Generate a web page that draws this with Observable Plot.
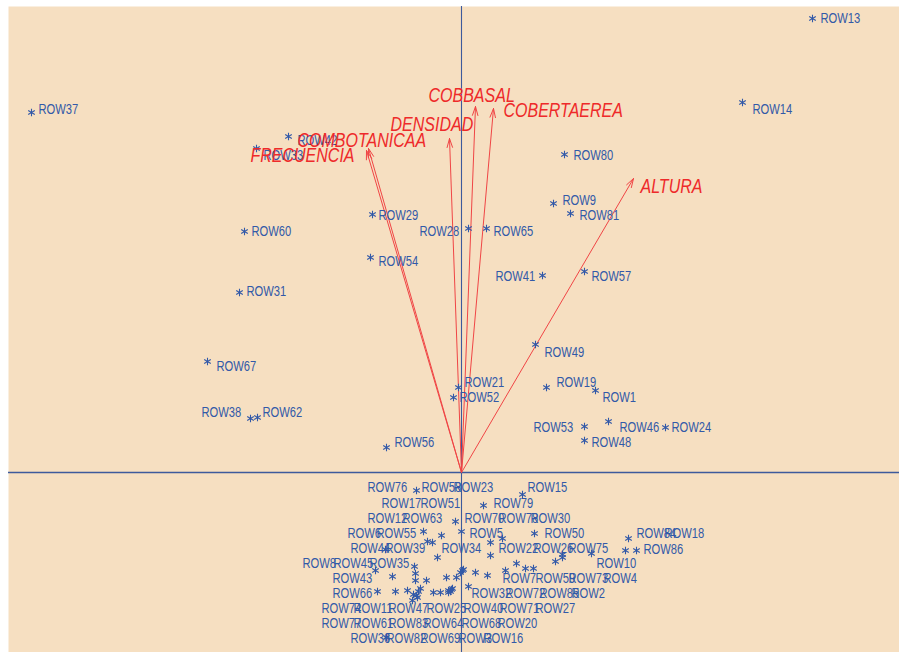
<!DOCTYPE html>
<html>
<head>
<meta charset="utf-8">
<script src="https://cdn.jsdelivr.net/npm/d3@7"></script>
<script src="https://cdn.jsdelivr.net/npm/@observablehq/plot@0.6"></script>
<style>
  html, body { margin: 0; padding: 0; background: white; }
</style>
</head>
<body>
<div id="chart"></div>
<script>
// Observations (scores on component 1 and 2) and label anchor positions
const rowNames = [
  "ROW13","ROW37","ROW14","ROW42","ROW33","ROW80","ROW9","ROW81","ROW60","ROW29","ROW28","ROW65","ROW54","ROW41","ROW57","ROW31","ROW49","ROW67","ROW21","ROW52","ROW19","ROW1","ROW38","ROW62","ROW53","ROW46","ROW24","ROW48","ROW56",
  "ROW76","ROW58","ROW23","ROW15","ROW17","ROW51","ROW79","ROW12","ROW63","ROW70","ROW78","ROW30","ROW6","ROW55","ROW5","ROW50","ROW84","ROW18","ROW44","ROW39","ROW34","ROW22","ROW26","ROW75","ROW86","ROW8","ROW45","ROW35","ROW10","ROW43","ROW7","ROW59","ROW73","ROW4","ROW66","ROW32","ROW72","ROW85","ROW2","ROW74","ROW11","ROW47","ROW25","ROW40","ROW71","ROW27","ROW77","ROW61","ROW83","ROW64","ROW68","ROW20","ROW36","ROW82","ROW69","ROW3","ROW16"
];
const rowX = [
  3.51,-4.30,2.81,-1.73,-2.05,1.03,0.92,1.09,-2.17,-0.89,0.07,0.25,-0.91,0.81,1.23,-2.22,0.74,-2.54,-0.03,-0.08,0.85,1.34,-2.11,-2.04,1.23,1.47,2.04,1.23,-0.75,
  -0.45,-0.06,0.00,0.61,-0.38,-0.20,0.22,-0.76,-0.34,0.29,0.41,0.73,-0.86,-0.29,0.29,1.01,1.67,1.75,-0.69,-0.24,0.01,0.44,0.94,1.30,1.64,-0.84,-0.47,-0.46,0.72,-0.66,0.14,0.55,0.64,0.26,-0.46,0.07,-0.01,-0.05,-0.15,-0.35,-0.54,-0.43,-0.44,-0.28,-0.21,-0.13,-0.49,-0.09,-0.11,-0.48,-0.41,0.02,-0.75,-0.45,-0.10,-0.13,1.01
];
const rowY = [
  4.54,3.60,3.70,3.36,3.24,3.18,2.69,2.59,2.41,2.58,2.44,2.44,2.15,1.97,2.01,1.80,1.28,1.11,0.85,0.75,0.85,0.82,0.54,0.55,0.46,0.51,0.45,0.32,0.25,
  -0.18,-0.49,-0.59,-0.22,-0.59,-0.63,-0.33,-0.77,-0.69,-0.70,-0.66,-0.61,-0.98,-0.70,-0.83,-0.82,-0.66,-0.78,-1.04,-0.85,-0.98,-0.98,-0.89,-0.81,-0.78,-1.19,-0.94,-1.01,-0.96,-1.19,-1.00,-0.91,-0.96,-1.03,-1.08,-1.14,-1.00,-1.05,-1.05,-1.08,-1.18,-1.19,-1.25,-1.20,-1.20,-1.18,-1.28,-1.16,-1.19,-1.22,-1.16,-0.97,-1.65,-1.23,-1.17,-1.20,-0.85
];
const labelX = [
  3.59,-4.23,2.91,-1.64,-1.98,1.12,1.01,1.18,-2.10,-0.83,-0.42,0.32,-0.83,0.34,1.30,-2.15,0.83,-2.45,0.03,-0.02,0.95,1.41,-2.60,-1.99,0.72,1.58,2.10,1.30,-0.67,
  -0.94,-0.40,-0.08,0.66,-0.80,-0.41,0.32,-0.94,-0.59,0.03,0.37,0.69,-1.14,-0.85,0.08,0.83,1.75,2.03,-1.11,-0.76,-0.20,0.37,0.72,1.07,1.82,-1.59,-1.28,-0.92,1.35,-1.29,0.41,0.74,1.07,1.42,-1.29,0.10,0.44,0.78,1.10,-1.40,-1.08,-0.73,-0.35,0.02,0.38,0.74,-1.40,-1.08,-0.73,-0.38,0.00,0.36,-1.11,-0.75,-0.41,-0.03,0.22
];
const labelY = [
  4.54,3.63,3.63,3.32,3.17,3.17,2.72,2.57,2.41,2.57,2.41,2.41,2.11,1.96,1.96,1.81,1.20,1.06,0.90,0.75,0.90,0.75,0.60,0.60,0.45,0.45,0.45,0.30,0.30,
  -0.15,-0.15,-0.15,-0.15,
  -0.31,-0.31,-0.31,
  -0.46,-0.46,-0.46,-0.46,-0.46,
  -0.61,-0.61,-0.61,-0.61,-0.61,-0.61,
  -0.76,-0.76,-0.76,-0.76,-0.76,-0.76,-0.77,
  -0.91,-0.91,-0.91,-0.91,
  -1.06,-1.06,-1.06,-1.06,-1.06,
  -1.21,-1.21,-1.21,-1.21,-1.21,
  -1.36,-1.36,-1.36,-1.36,-1.36,-1.36,-1.36,
  -1.51,-1.51,-1.51,-1.51,-1.51,-1.51,
  -1.66,-1.66,-1.66,-1.66,-1.66
];

// Variable loadings (arrow tips) and their label positions
const varNames = ["FRECUENCIA","COMBOTANICAA","DENSIDAD","COBBASAL","COBERTAEREA","ALTURA"];
const varX = [-0.95,-0.93,-0.12,0.14,0.32,1.72];
const varY = [3.22,3.24,3.34,3.66,3.64,2.94];
const varLabelX = [-2.11,-1.64,-0.71,-0.33,0.42,1.79];
const varLabelY = [3.17,3.32,3.48,3.77,3.62,2.86];

const rows = rowNames.map((name, i) => ({name, x: rowX[i], y: rowY[i], lx: labelX[i], ly: labelY[i]}));
const vars = varNames.map((name, i) => ({name, x: varX[i], y: varY[i], lx: varLabelX[i], ly: varLabelY[i]}));

const blue = "#3259a8";
const red = "#ee2a2a";

const chart = Plot.plot({
  width: 899,
  height: 652,
  marginTop: 6,
  marginLeft: 8,
  marginRight: 0,
  marginBottom: 0,
  x: {domain: [-4.53, 4.38], axis: null},
  y: {domain: [-1.80, 4.66], axis: null},
  style: {background: "white", fontFamily: "'Liberation Sans', Arial, sans-serif"},
  marks: [
    Plot.frame({fill: "#f6dfc1", stroke: null}),
    Plot.ruleY([0], {stroke: "#3d5a9c", strokeWidth: 1.3}),
    Plot.ruleX([0], {stroke: "#3d5a9c", strokeWidth: 1.1}),
    Plot.arrow(vars, {x1: () => 0, y1: () => 0, x2: "x", y2: "y", stroke: "#f04545", strokeWidth: 1, headLength: 14, headAngle: 34}),
    Plot.dot(rows, {x: "x", y: "y", symbol: "asterisk", r: 3.6, stroke: blue, strokeWidth: 1.1}),
    Plot.text(rows, {x: "lx", y: "ly", text: "name", textAnchor: "start", fontSize: 14, fill: blue}),
    Plot.text(vars, {x: "lx", y: "ly", text: "name", textAnchor: "start", fontSize: 20, fontStyle: "italic", fill: red})
  ]
});

document.getElementById("chart").append(chart);

// condensed lettering like the original
d3.select(chart).selectAll("text").each(function() {
  const L = this.getComputedTextLength();
  if (L > 0) {
    this.setAttribute("textLength", (L * 0.8).toFixed(1));
    this.setAttribute("lengthAdjust", "spacingAndGlyphs");
  }
});
</script>
</body>
</html>
